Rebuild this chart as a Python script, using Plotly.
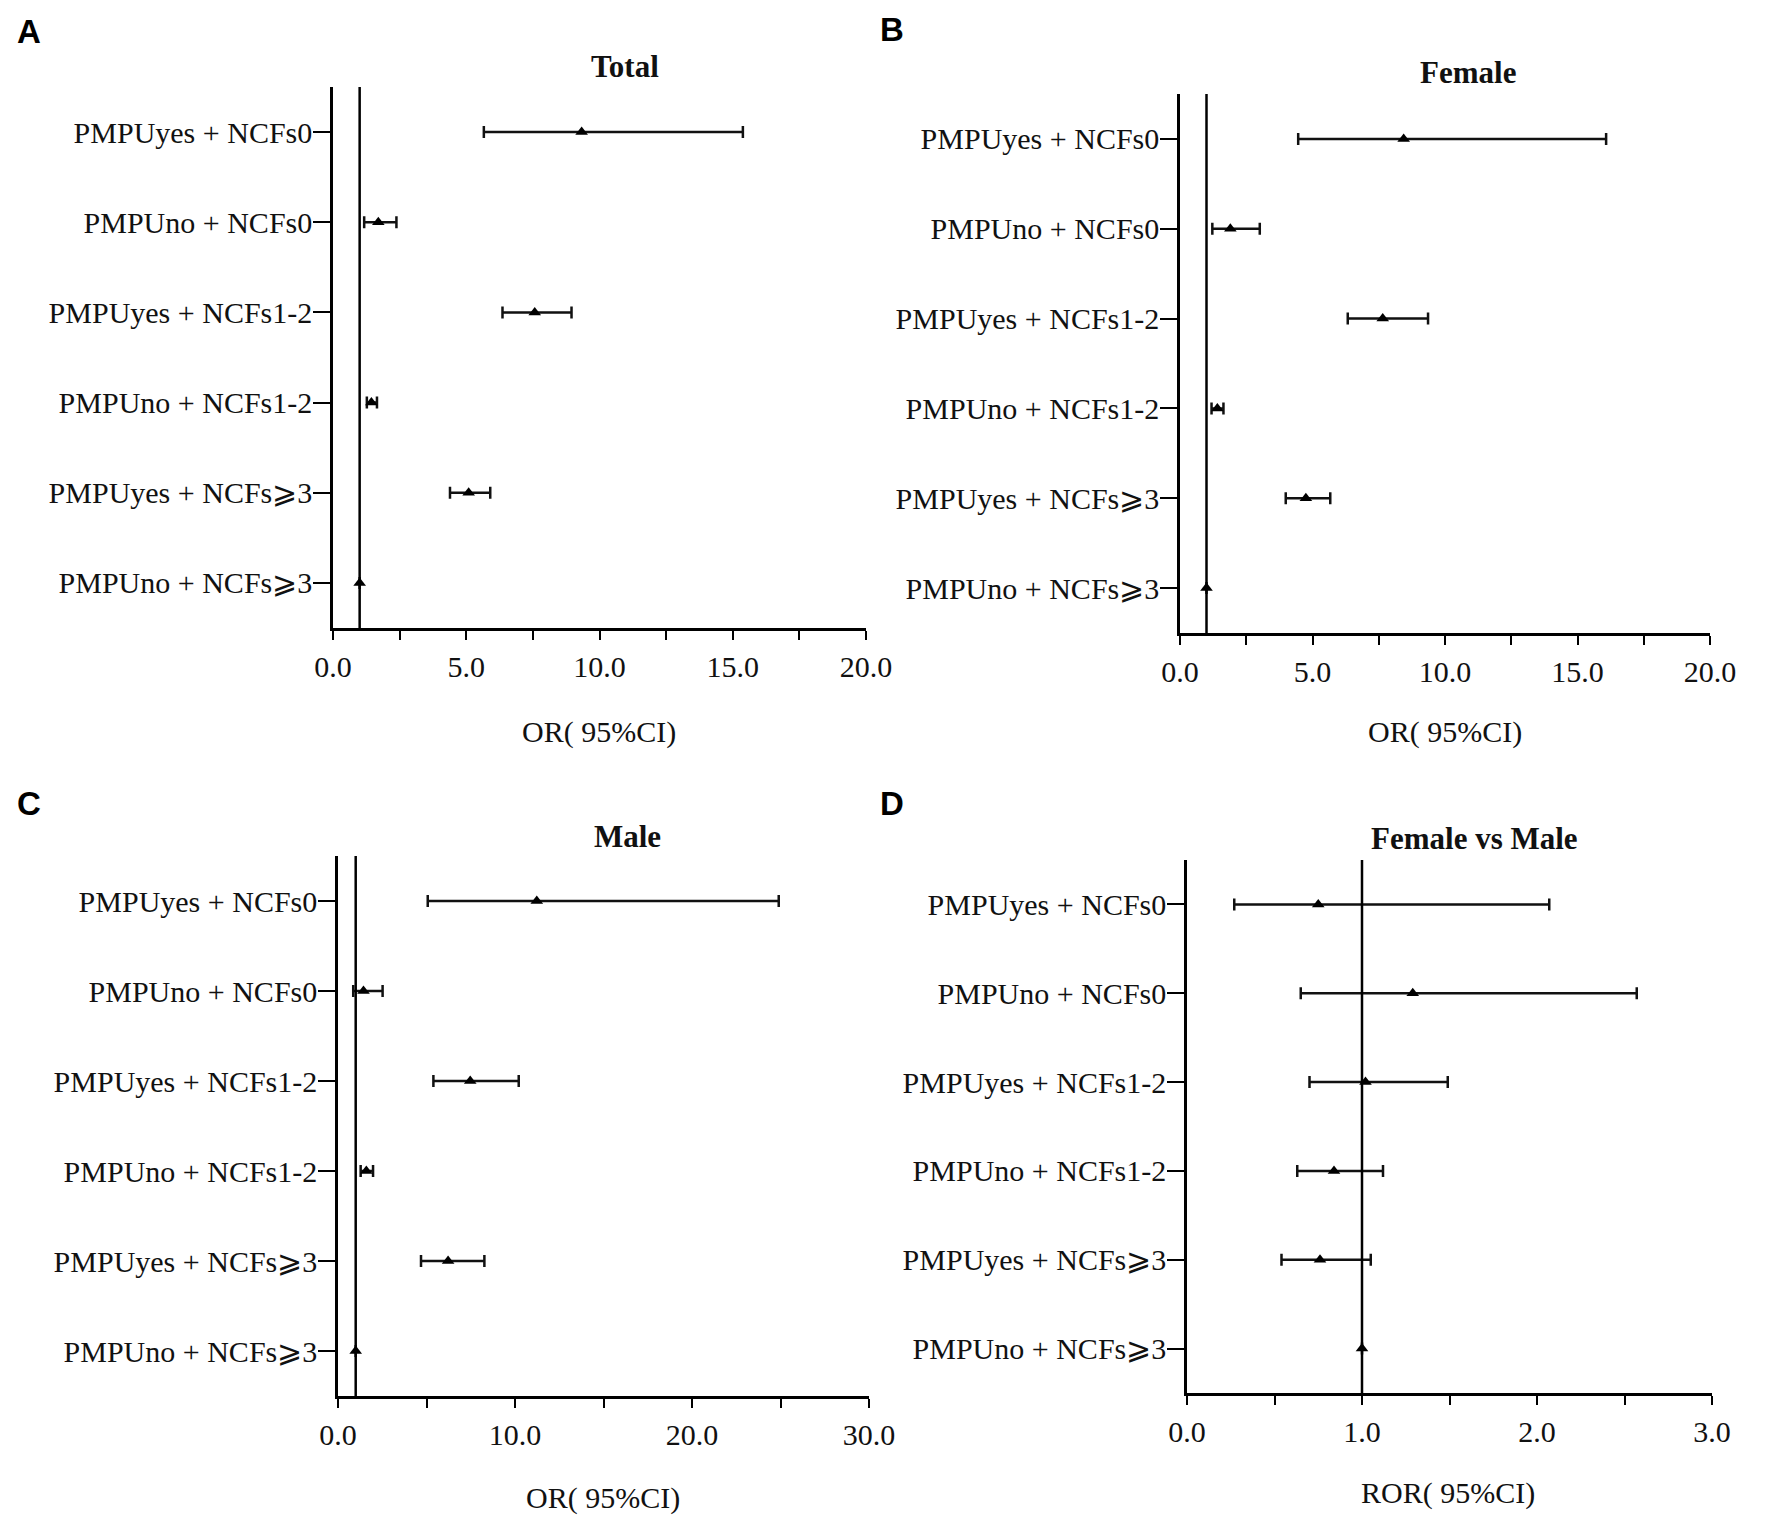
import plotly.graph_objects as go

W, H = 1772, 1531
PAD = 8  # default page margin round the plot div

rows = ["PMPUyes + NCFs0", "PMPUno + NCFs0", "PMPUyes + NCFs1-2",
        "PMPUno + NCFs1-2", "PMPUyes + NCFs⩾3", "PMPUno + NCFs⩾3"]

# Total
total_or = [9.33, 1.70, 7.57, 1.44, 5.09, 1.00]
total_lo = [5.66, 1.17, 6.36, 1.27, 4.39, None]
total_hi = [15.38, 2.38, 8.95, 1.65, 5.90, None]

# Female
female_or = [8.44, 1.90, 7.65, 1.41, 4.75, 1.00]
female_lo = [4.46, 1.22, 6.33, 1.19, 3.99, None]
female_hi = [16.08, 3.01, 9.36, 1.64, 5.67, None]

# Male
male_or = [11.23, 1.44, 7.47, 1.60, 6.22, 1.00]
male_lo = [5.07, 0.86, 5.39, 1.28, 4.69, None]
male_hi = [24.90, 2.52, 10.21, 1.98, 8.27, None]

# Female vs Male
ror = [0.75, 1.29, 1.02, 0.84, 0.76, 1.00]
ror_lo = [0.27, 0.65, 0.70, 0.63, 0.54, None]
ror_hi = [2.07, 2.57, 1.49, 1.12, 1.05, None]

SERIF = "Liberation Serif, Times New Roman, serif"
SANS = "Liberation Sans, Arial, sans-serif"
FS = 30
TXT = "#111"


def fx(p):
    return (p - PAD) / W


def fy(p):
    return 1 - (p - PAD) / H


# panel boxes in pixels: left, right, top, bottom
panels = [
    dict(letter="A", title="Total", xtitle="OR( 95%CI)", est=total_or, lo=total_lo, hi=total_hi,
         box=(333, 866, 87, 628), xmax=20, dtick=5, minor=2.5,
         letter_xy=(29, 31), title_xy=(625, 66), xtitle_xy=(599, 732)),
    dict(letter="B", title="Female", xtitle="OR( 95%CI)", est=female_or, lo=female_lo, hi=female_hi,
         box=(1180, 1710, 94, 633), xmax=20, dtick=5, minor=2.5,
         letter_xy=(892, 30), title_xy=(1468, 73), xtitle_xy=(1445, 732)),
    dict(letter="C", title="Male", xtitle="OR( 95%CI)", est=male_or, lo=male_lo, hi=male_hi,
         box=(338, 869, 856, 1396), xmax=30, dtick=10, minor=5,
         letter_xy=(29, 804), title_xy=(627, 836), xtitle_xy=(603, 1498)),
    dict(letter="D", title="Female vs Male", xtitle="ROR( 95%CI)", est=ror, lo=ror_lo, hi=ror_hi,
         box=(1187, 1712, 860, 1393), xmax=3, dtick=1, minor=0.5,
         letter_xy=(892, 804), title_xy=(1474, 838), xtitle_xy=(1448, 1493)),
]

fig = go.Figure()
annotations = []
shapes = []

for i, p in enumerate(panels):
    n = "" if i == 0 else str(i + 1)
    plus = [None if h is None else h - e for h, e in zip(p["hi"], p["est"])]
    minus = [None if l is None else e - l for l, e in zip(p["lo"], p["est"])]
    fig.add_trace(go.Scatter(
        x=p["est"], y=rows, mode="markers",
        marker=dict(symbol="triangle-up", size=11, color="black"),
        error_x=dict(type="data", array=plus, arrayminus=minus, symmetric=False,
                     color="#111", thickness=2.5, width=6),
        xaxis="x" + n, yaxis="y" + n, showlegend=False, hoverinfo="x+y",
    ))
    l, r, t, b = p["box"]
    fig.layout["xaxis" + n] = dict(
        domain=[fx(l), fx(r)], anchor="y" + n, range=[0, p["xmax"]],
        tickmode="linear", tick0=0, dtick=p["dtick"], tickformat=".1f",
        showline=True, linecolor="black", linewidth=2.5, mirror=False,
        ticks="outside", ticklen=9, tickwidth=2, tickcolor="black",
        minor=dict(dtick=p["minor"], ticks="outside", ticklen=9, tickwidth=2, tickcolor="black"),
        showgrid=False, zeroline=False, ticklabelstandoff=1, automargin=False,
        tickfont=dict(family=SERIF, size=FS, color=TXT),
    )
    fig.layout["yaxis" + n] = dict(
        domain=[fy(b), fy(t)], anchor="x" + n,
        type="category", categoryorder="array", categoryarray=rows[::-1],
        range=[-0.5, 5.5],
        showline=True, linecolor="black", linewidth=2.5,
        ticks="outside", ticklen=17, tickwidth=2, tickcolor="black",
        showgrid=False, zeroline=False, automargin=False, ticklabelstandoff=-5,
        tickfont=dict(family=SERIF, size=FS, color=TXT),
    )
    shapes.append(dict(type="line", xref="x" + n, yref="y" + n + " domain",
                       x0=1, x1=1, y0=0, y1=1, line=dict(color="black", width=2.5)))
    annotations.append(dict(text="<b>%s</b>" % p["letter"], x=fx(p["letter_xy"][0]), y=fy(p["letter_xy"][1]),
                            xref="paper", yref="paper", showarrow=False,
                            xanchor="center", yanchor="middle",
                            font=dict(family=SANS, size=33, color="black")))
    annotations.append(dict(text="<b>%s</b>" % p["title"], x=fx(p["title_xy"][0]), y=fy(p["title_xy"][1]),
                            xref="paper", yref="paper", showarrow=False,
                            xanchor="center", yanchor="middle",
                            font=dict(family=SERIF, size=31, color=TXT)))
    annotations.append(dict(text=p["xtitle"], x=fx(p["xtitle_xy"][0]), y=fy(p["xtitle_xy"][1]),
                            xref="paper", yref="paper", showarrow=False,
                            xanchor="center", yanchor="middle",
                            font=dict(family=SERIF, size=FS, color=TXT)))

fig.update_layout(
    width=W, height=H, autosize=False,
    margin=dict(l=0, r=0, t=0, b=0, autoexpand=False),
    paper_bgcolor="white", plot_bgcolor="white",
    annotations=annotations, shapes=shapes,
)

fig.write_html("out.html")
